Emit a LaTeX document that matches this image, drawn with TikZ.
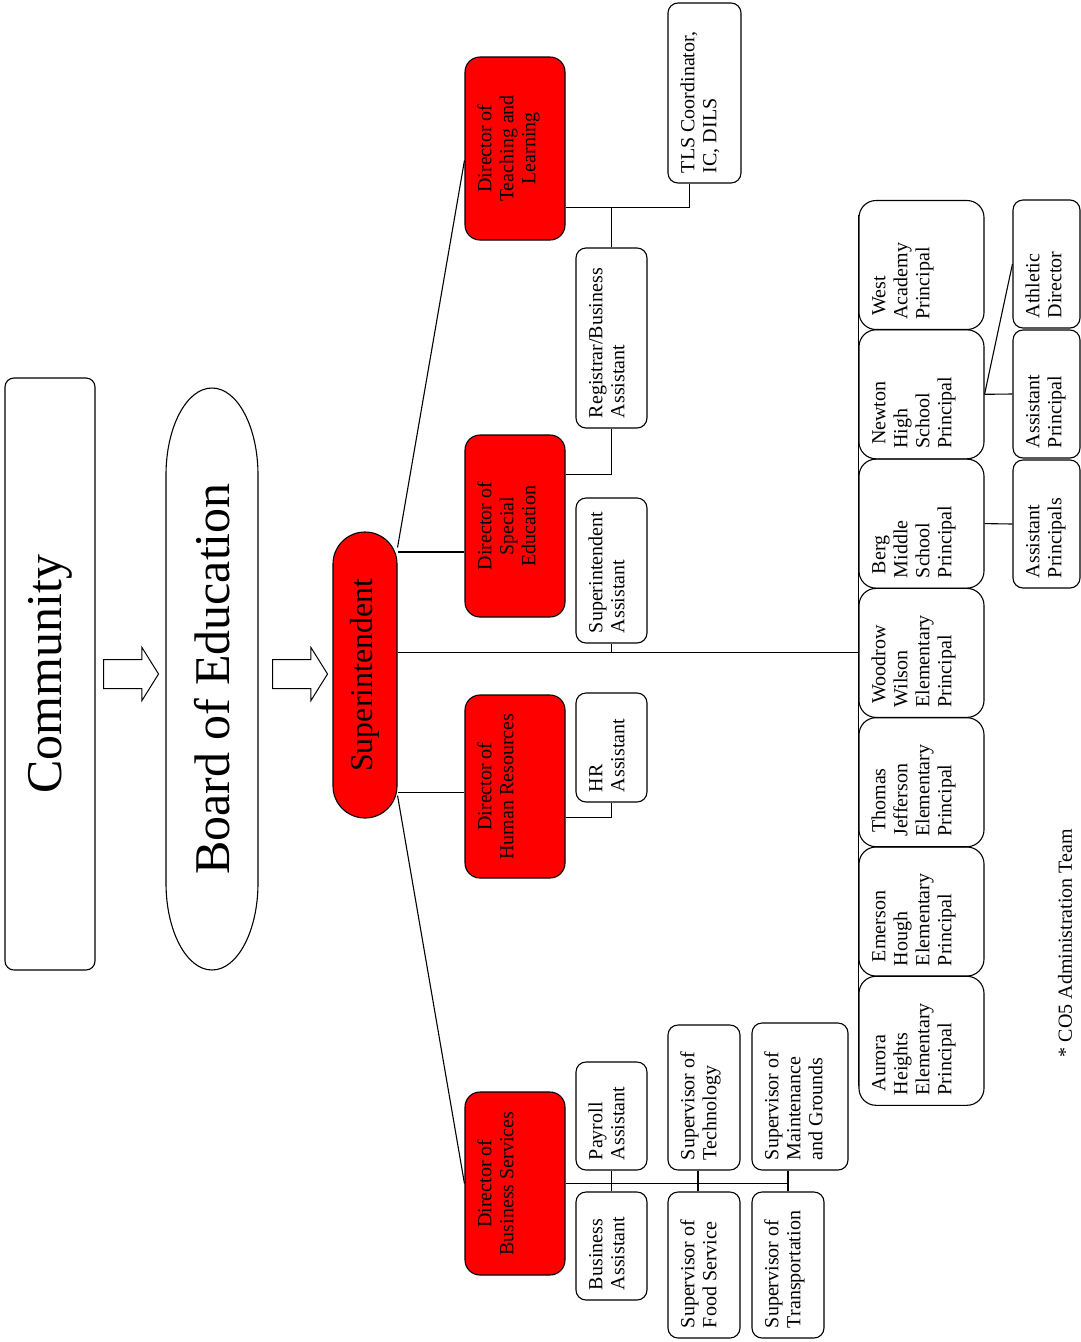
\documentclass[tikz,border=0pt]{standalone}
\usepackage{fontspec}
\setmainfont{Liberation Serif}
\usetikzlibrary{shapes.arrows}

\newcommand{\boxfont}{\fontsize{20}{22}\selectfont}
\newcommand{\bigfont}{\fontsize{50}{55}\selectfont}
\newcommand{\supfont}{\fontsize{32}{36}\selectfont}

\tikzset{
  line/.style={line width=1.1pt},
  orgbox/.style 2 args={draw, line width=1.1pt, rotate=90, font=\boxfont,
    inner xsep=10pt, inner ysep=11pt,
    execute at begin node={\begin{minipage}[c][\dimexpr#2pt-22pt\relax][t]{\dimexpr#1pt-20pt\relax}\raggedright\strut},
    execute at end node={\end{minipage}}},
  director/.style 2 args={orgbox={#1}{#2}, fill=red, rounded corners=15pt},
  staff/.style 2 args={orgbox={#1}{#2}, fill=white, rounded corners=10pt},
  principal/.style={orgbox={129}{125}, rounded corners=17pt},
  bigarrow/.style={single arrow, draw, line width=1pt, inner xsep=0pt, inner ysep=14pt,
    minimum height=55pt, single arrow head extend=12pt, single arrow tip angle=116},
}

\begin{document}
\begin{tikzpicture}[x=1pt, y=-1pt]
        \useasboundingbox (0,0) rectangle (1081,1342);

        % Comunidade e conselho
        \node[draw, line width=1.1pt, rounded corners=9pt, rotate=90, minimum width=592pt,
              minimum height=90pt, font=\bigfont] (com) at (50,674) {Community};
        \node[rotate=90, font=\bigfont] (boe) at (212,679) {Board of Education};
        \draw[line] (166,475) -- (166,883) arc[start angle=180, end angle=360, x radius=46pt, y radius=87pt]
                    -- (258,475) arc[start angle=0, end angle=180, x radius=46pt, y radius=87pt] -- cycle;
        \node[bigarrow] (a1) at (126.5,674) {};
        \node[bigarrow] (a2) at (295.5,674) {};

        % Superintendente
        \node[draw, line width=1.1pt, fill=red, rounded corners=32pt, rotate=90, inner sep=0pt,
              minimum width=286pt, minimum height=64pt, font=\supfont] (sup) at (365,675) {Superintendent};

        % Diretores
        \node[director={183}{100}] (dtl) at (515,148.5) {\centering Director of\\Teaching and\\Learning\par};
        \node[director={182}{100}] (dse) at (515,526) {\centering Director of\\Special\\Education\par};
        \node[director={183}{100}] (dhr) at (515,786.5) {\centering Director of\\Human Resources\par};
        \node[director={183}{100}] (dbs) at (515,1183.5) {\centering Director of\\Business Services\par};

        % Assistentes
        \node[staff={180}{71}] (reg) at (611.5,338) {Registrar/Business\\Assistant};
        \node[staff={145}{71}] (supa) at (611.5,570.5) {Superintendent\\Assistant};
        \node[staff={109}{71}] (hra) at (611.5,747.5) {HR\\Assistant};
        \node[staff={108}{71}] (pay) at (611.5,1116) {Payroll\\Assistant};
        \node[staff={108}{71}] (bus) at (611.5,1246) {Business\\Assistant};

        % Coordenadores e supervisores
        \node[staff={180}{73}] (tls) at (704.5,93) {TLS Coordinator,\\IC, DILS};
        \node[staff={145}{72}] (tech) at (704,1097.5) {Supervisor of\\Technology};
        \node[staff={146}{72}] (food) at (704,1265) {Supervisor of\\Food Service};
        \node[staff={147}{96}] (maint) at (800,1096.5) {Supervisor of\\Maintenance\\and Grounds};
        \node[staff={146}{72}] (trans) at (788,1265) {Supervisor of\\Transportation};

        % Diretores de escola
        \foreach \nm/\txt [count=\i from 0] in {wa/{West\\Academy\\Principal},
                nh/{Newton\\High\\School\\Principal}, bm/{Berg\\Middle\\School\\Principal},
                ww/{Woodrow\\Wilson\\Elementary\\Principal}, tj/{Thomas\\Jefferson\\Elementary\\Principal},
                eh/{Emerson\\Hough\\Elementary\\Principal}, ah/{Aurora\\Heights\\Elementary\\Principal}} {
            \node[principal] (\nm) at (921.5, 265+129.3*\i) {\hspace*{4pt}\txt};
        }
        \node[staff={128}{67}] (ad) at (1046.5,264) {Athletic\\Director};
        \node[staff={128}{67}] (ap) at (1046.5,394) {Assistant\\Principal};
        \node[staff={128}{67}] (aps) at (1046.5,524) {Assistant\\Principals};

        \node[rotate=90, font=\boxfont] (note) at (1065,943) {* CO5 Administration Team};

        % Ligacoes do superintendente
        \draw[line] ([yshift=-16pt]sup.south east) -- ([yshift=-12pt]dtl.north);
        \draw[line] ([yshift=-26pt]dse.north) -- ([yshift=-26pt]dse.north -| sup.south);
        \draw[line] ([yshift=-6pt]dhr.north) -- ([yshift=-6pt]dhr.north -| sup.south);
        \draw[line] ([yshift=23pt]sup.south west) -- (dbs.north);
        \draw[line] (sup.south |- ww.north) -- (ww.north);
        \draw[line] ([yshift=-15pt]wa.north east) -- ([yshift=20pt]ah.north west);
        \draw[line] (supa.west) -- (supa.west |- ww.north);

        % Ligacoes dos diretores
        \coordinate (tlj) at ([yshift=33pt]dtl.south west);
        \draw[line] (tlj) -| ([xshift=-15pt]tls.west);
        \draw[line] (reg.east) -- (reg.east |- tlj);
        \draw[line] ([yshift=-40pt]dse.south east) -| (reg.west);
        \draw[line] ([yshift=-31pt]dhr.south) -| (hra.west);
        \draw[line] (dbs.south) -- (dbs.south -| trans.east);
        \draw[line] (pay.west) -- (bus.east);
        \draw[line] ([xshift=-6pt]tech.west) -- ([xshift=-6pt]food.east);
        \draw[line] (trans.east) -- (trans.east |- maint.west);

        % Ligacoes das escolas
        \draw[line] (nh.south) -- (ap.north);
        \draw[line] (nh.south) -- (ad.north);
        \draw[line] (bm.south) -- (aps.north);
    \end{tikzpicture}
\end{document}
